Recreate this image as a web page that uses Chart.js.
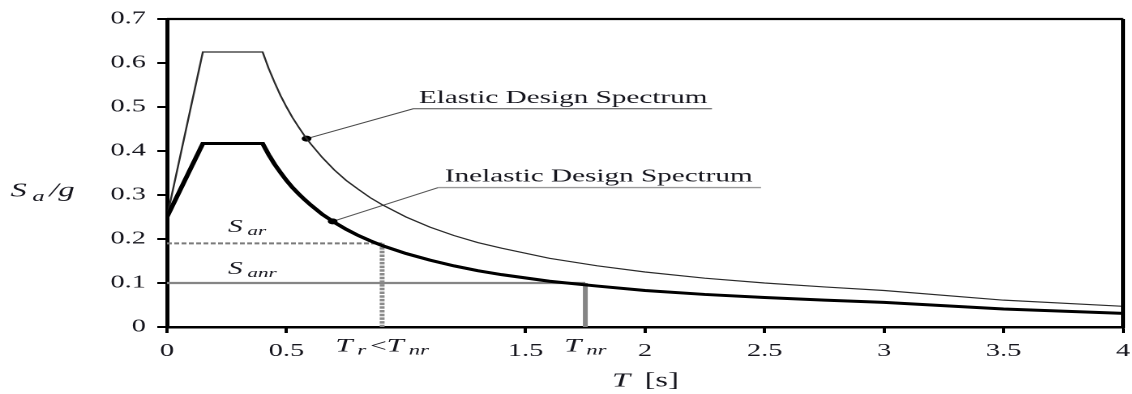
<!DOCTYPE html>
<html>
<head>
<meta charset="utf-8">
<script src="https://cdn.jsdelivr.net/npm/chart.js@4/dist/chart.umd.min.js"></script>
<style>
html,body{margin:0;padding:0;background:#fff;overflow:hidden;}
#wrap{position:absolute;left:0;top:0;height:394px;transform-origin:0 0;}
</style>
</head>
<body>
<div id="wrap"><canvas id="spectrum"></canvas></div>
<script>
// the figure is drawn narrow and stretched sideways, like the printed plot
const STRETCH = 1.62;

const periods     = [0, 0.15, 0.4, 0.425, 0.45, 0.475, 0.5, 0.525, 0.55, 0.575, 0.6, 0.65, 0.7, 0.75, 0.8, 0.85, 0.9, 1.0, 1.1, 1.2, 1.3, 1.4, 1.6, 1.8, 2.0, 2.25, 2.5, 2.75, 3.0, 3.5, 4.0];
const elasticSa   = [0.25, 0.625, 0.625, 0.588, 0.556, 0.526, 0.5, 0.476, 0.455, 0.435, 0.417, 0.385, 0.357, 0.333, 0.313, 0.294, 0.278, 0.25, 0.227, 0.208, 0.192, 0.179, 0.156, 0.139, 0.125, 0.111, 0.1, 0.091, 0.083, 0.061, 0.047];
const inelasticSa = [0.25, 0.417, 0.417, 0.392, 0.370, 0.351, 0.333, 0.317, 0.303, 0.290, 0.278, 0.256, 0.238, 0.222, 0.208, 0.196, 0.185, 0.167, 0.152, 0.139, 0.128, 0.119, 0.104, 0.093, 0.083, 0.074, 0.067, 0.061, 0.056, 0.041, 0.031];

const xTickValues = [0, 0.5, 1.5, 2, 2.5, 3, 3.5, 4];
const yTickValues = [0, 0.1, 0.2, 0.3, 0.4, 0.5, 0.6, 0.7];
const yTickLabels = ['0', '0.1', '0.2', '0.3', '0.4', '0.5', '0.6', '0.7'];

// S_ar / T_r and S_anr / T_nr reading lines
const sarLevel  = [[0, 0.19], [0.9, 0.19]];
const sarDrop   = [[0.9, 0.19], [0.9, 0]];
const sanrLevel = [[0, 0.1], [1.75, 0.1]];
const sanrDrop  = [[1.75, 0.1], [1.75, 0]];

// callout leaders: point on curve, elbow, end of underline
const elasticLeader   = [[0.584, 0.428], [1.03, 0.496], [2.28, 0.496]];
const inelasticLeader = [[0.693, 0.240], [1.135, 0.317], [2.485, 0.317]];

const pts = arr => arr.map(([x, y]) => ({x, y}));
const serif = "'Liberation Serif', 'Times New Roman', serif";

document.getElementById('wrap').style.width = (1132 / STRETCH) + 'px';
document.getElementById('wrap').style.transform = 'scaleX(' + STRETCH + ')';

// draw a run of text pieces (for subscripts) left to right
function drawRuns(ctx, runs, x, y, align){
  let total = 0;
  runs.forEach(r => { ctx.font = r.font; total += ctx.measureText(r.t).width + (r.gap || 0); });
  let cx = align === 'center' ? x - total / 2 : x;
  runs.forEach(r => {
    ctx.font = r.font;
    ctx.fillText(r.t, cx, y + (r.dy || 0));
    cx += ctx.measureText(r.t).width + (r.gap || 0);
  });
}

const annotate = {
  id: 'annotate',
  afterDraw(chart){
    const {ctx, chartArea: a, scales: {x, y}} = chart;
    ctx.save();

    // top and right frame
    ctx.strokeStyle = '#000';
    ctx.lineWidth = 2.2;
    ctx.beginPath();
    ctx.moveTo(a.left, a.top);
    ctx.lineTo(a.right, a.top);
    ctx.stroke();
    ctx.lineWidth = 2.5;
    ctx.beginPath();
    ctx.moveTo(a.right, a.top);
    ctx.lineTo(a.right, a.bottom + 1.2);
    ctx.stroke();

    ctx.fillStyle = '#16161e';
    ctx.textBaseline = 'alphabetic';
    ctx.textAlign = 'left';

    const it = s => 'italic ' + s + 'px ' + serif;
    const rm = s => s + 'px ' + serif;

    // callout texts
    ctx.font = rm(18);
    ctx.fillText('Elastic Design Spectrum',
      x.getPixelForValue(elasticLeader[1][0]) + 3.5, y.getPixelForValue(elasticLeader[1][1]) - 6);
    ctx.fillText('Inelastic Design Spectrum',
      x.getPixelForValue(inelasticLeader[1][0]) + 4, y.getPixelForValue(inelasticLeader[1][1]) - 6);

    // S_ar and S_anr
    const sx = x.getPixelForValue(0.255);
    drawRuns(ctx, [{t: 'S', font: it(18), gap: 3}, {t: 'ar', font: it(13), dy: 3}],
      sx, y.getPixelForValue(sarLevel[0][1]) - 11.5);
    drawRuns(ctx, [{t: 'S', font: it(18), gap: 3}, {t: 'anr', font: it(13), dy: 3}],
      sx, y.getPixelForValue(sanrLevel[0][1]) - 9);

    // T_r < T_nr and T_nr under the axis
    drawRuns(ctx, [
      {t: 'T', font: it(19), gap: 3}, {t: 'r', font: it(14), dy: 3, gap: 2.5},
      {t: '<', font: rm(18)}, {t: 'T', font: it(19), gap: 3}, {t: 'nr', font: it(14), dy: 3}
    ], x.getPixelForValue(sarDrop[0][0]), 351.5, 'center');
    drawRuns(ctx, [{t: 'T', font: it(19), gap: 3}, {t: 'nr', font: it(14), dy: 3}],
      x.getPixelForValue(sanrDrop[0][0]), 351.5, 'center');

    // axis titles
    drawRuns(ctx, [{t: 'S', font: it(20), gap: 3.5}, {t: 'a', font: it(15), dy: 4.5, gap: 3}, {t: '/g', font: it(20)}], 6.5, 196.5);
    drawRuns(ctx, [{t: 'T', font: it(20), gap: 9}, {t: '[s]', font: rm(20)}], 377.5, 386.5);

    ctx.restore();
  }
};

new Chart(document.getElementById('spectrum'), {
  type: 'line',
  data: {
    datasets: [
      {data: periods.map((t, i) => ({x: t, y: inelasticSa[i]})), borderColor: '#000', borderWidth: 3},
      {data: periods.map((t, i) => ({x: t, y: elasticSa[i]})), borderColor: '#2a2a2a', borderWidth: 1.2},
      {data: pts(elasticLeader), borderColor: '#4a4a4a', borderWidth: 1,
        pointRadius: [3, 0, 0], pointBackgroundColor: '#000', pointBorderWidth: 0},
      {data: pts(inelasticLeader), borderWidth: 1,
        segment: {borderColor: c => c.p0DataIndex === 1 ? '#9a9a9a' : '#555', borderWidth: c => c.p0DataIndex === 1 ? 1.4 : 1},
        pointRadius: [3, 0, 0], pointBackgroundColor: '#000', pointBorderWidth: 0},
      {data: pts(sarLevel), borderColor: '#7a7a7a', borderWidth: 2, borderDash: [3, 1.5]},
      {data: pts(sarDrop), borderColor: '#8a8a8a', borderWidth: 3, borderDash: [2.5, 1.2]},
      {data: pts(sanrLevel), borderColor: '#858585', borderWidth: 2.2},
      {data: pts(sanrDrop), borderColor: '#858585', borderWidth: 3}
    ]
  },
  options: {
    responsive: true,
    maintainAspectRatio: false,
    animation: false,
    devicePixelRatio: 2,
    layout: {padding: {top: 19, right: 6, left: 0, bottom: 0}},
    elements: {point: {radius: 0}, line: {tension: 0, borderCapStyle: 'butt'}},
    plugins: {legend: {display: false}, tooltip: {enabled: false}},
    scales: {
      x: {
        type: 'linear', min: 0, max: 4,
        afterBuildTicks: s => { s.ticks = xTickValues.map(v => ({value: v})); },
        afterFit: s => { s.height = 67; s.paddingLeft = 0; s.paddingRight = 0; },
        ticks: {callback: v => String(v), color: '#16161e', font: {family: serif, size: 17.5}, padding: 8, maxRotation: 0},
        grid: {drawOnChartArea: false, drawTicks: true, tickLength: 6, tickWidth: 2, tickColor: '#000'},
        border: {color: '#000', width: 2.5}
      },
      y: {
        type: 'linear', min: 0, max: 0.7,
        afterBuildTicks: s => { s.ticks = yTickValues.map(v => ({value: v})); },
        afterFit: s => { s.width = 103; s.paddingTop = 0; s.paddingBottom = 0; },
        ticks: {callback: (v, i) => yTickLabels[i], color: '#16161e', font: {family: serif, size: 17.5}, padding: 7},
        grid: {drawOnChartArea: false, drawTicks: true, tickLength: 6, tickWidth: 2, tickColor: '#000'},
        border: {color: '#000', width: 2.5}
      }
    }
  },
  plugins: [annotate]
});
</script>
</body>
</html>
